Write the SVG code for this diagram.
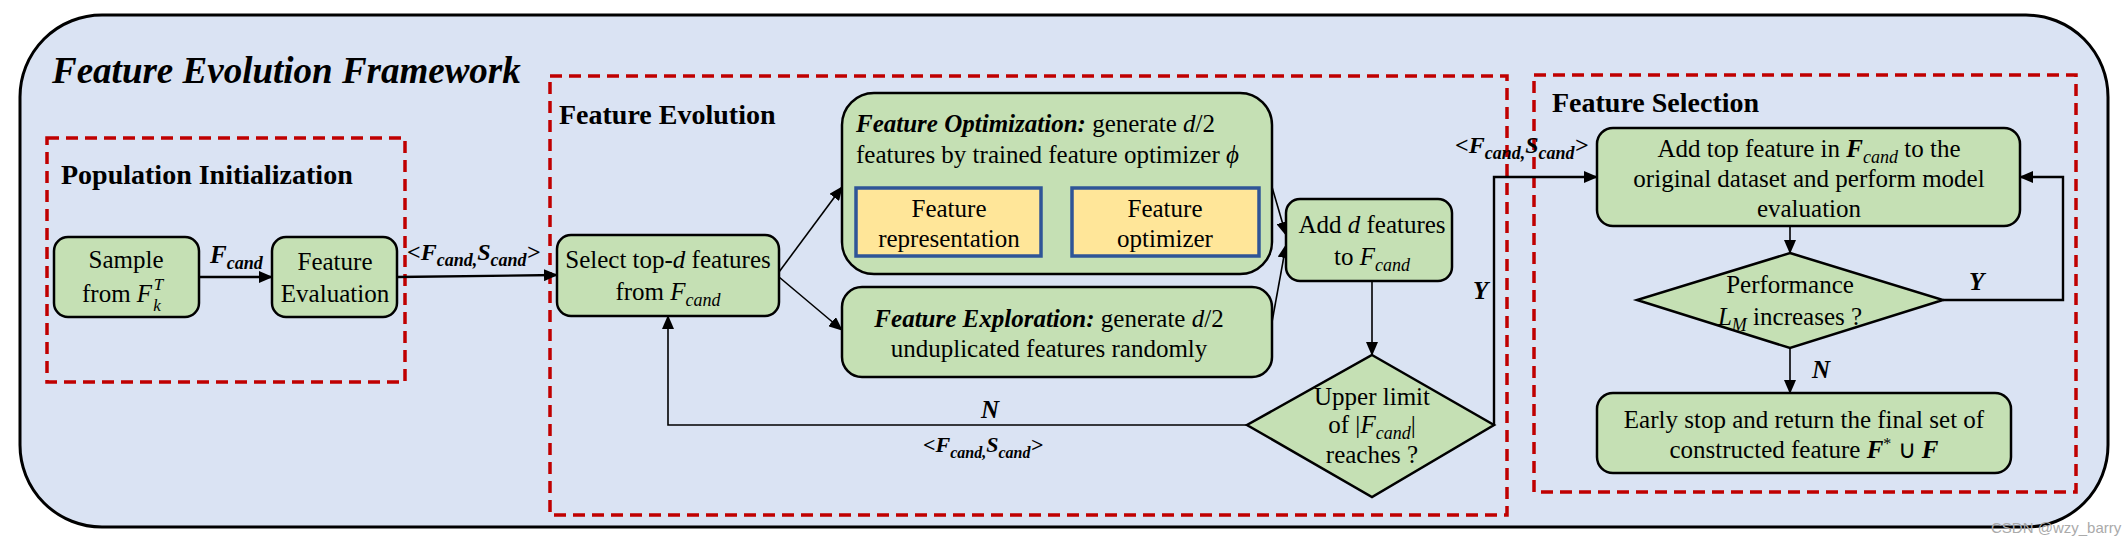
<svg xmlns="http://www.w3.org/2000/svg" width="2123" height="544" viewBox="0 0 2123 544" font-family="'Liberation Serif', 'Times New Roman', serif">
<style>
.box{fill:#c5e0b4;stroke:#000;stroke-width:2.5}
.ybox{fill:#ffe699;stroke:#2f5597;stroke-width:3.5}
.dash{fill:none;stroke:#c00000;stroke-width:3.5;stroke-dasharray:12 7}
.t{font-family:"Liberation Serif","Times New Roman",serif;font-size:25px;fill:#000}
.c{text-anchor:middle}
.hd{font-weight:bold;font-size:28px}
.ttl{font-size:37px}
.lab{font-size:24px}
.lab2{font-size:22px}
.i{font-style:italic}
.bi{font-style:italic;font-weight:bold}
.con{fill:none;stroke:#000;stroke-width:1.6}
.con2{fill:none;stroke:#000;stroke-width:2.4}
</style>
<defs>
<marker id="ah" markerUnits="userSpaceOnUse" markerWidth="14" markerHeight="12" refX="13" refY="6" orient="auto"><path d="M0,0 L14,6 L0,12 z" fill="#000"/></marker>
</defs>
<rect x="20" y="15" width="2088" height="512" rx="82" ry="82" fill="#dae3f3" stroke="#000" stroke-width="3"/>
<text x="52" y="83" class="t bi ttl">Feature Evolution Framework</text>
<g id="population-initialization">
<rect class="dash" x="47" y="138" width="358" height="244"/>
<text x="61" y="184" class="t hd">Population Initialization</text>
</g>
<g id="feature-evolution">
<rect class="dash" x="550" y="76" width="957" height="439"/>
<text x="559" y="124" class="t hd">Feature Evolution</text>
</g>
<g id="feature-selection">
<rect class="dash" x="1534" y="75" width="542" height="417"/>
<text x="1552" y="112" class="t hd">Feature Selection</text>
</g>
<g id="connectors">
<line class="con2" x1="199" y1="277" x2="272" y2="277" marker-end="url(#ah)"/>
<line class="con2" x1="397" y1="277" x2="557" y2="275" marker-end="url(#ah)"/>
<line class="con" x1="779" y1="272" x2="842" y2="187" marker-end="url(#ah)"/>
<line class="con" x1="779" y1="277" x2="842" y2="330" marker-end="url(#ah)"/>
<line class="con" x1="1041" y1="222" x2="1072" y2="222" marker-end="url(#ah)"/>
<line class="con" x1="1272" y1="187" x2="1286" y2="235" marker-end="url(#ah)"/>
<line class="con" x1="1272" y1="322" x2="1286" y2="245" marker-end="url(#ah)"/>
<line class="con" x1="1372" y1="281" x2="1372" y2="355" marker-end="url(#ah)"/>
<polyline class="con" points="1247,425 668,425 668,316" marker-end="url(#ah)"/>
<polyline class="con2" points="1494,425 1494,177 1597,177" marker-end="url(#ah)"/>
<line class="con" x1="1790" y1="226" x2="1790" y2="253" marker-end="url(#ah)"/>
<polyline class="con2" points="1943,300 2063,300 2063,177 2020,177" marker-end="url(#ah)"/>
<line class="con" x1="1790" y1="348" x2="1790" y2="393" marker-end="url(#ah)"/>
<text x="210" y="263" class="t bi">F<tspan font-size="18" dy="6">cand</tspan></text>
<text x="407" y="260" class="t bi lab">&lt;F<tspan font-size="18" dy="6">cand,</tspan><tspan dy="-6">S</tspan><tspan font-size="18" dy="6">cand</tspan><tspan dy="-6">&gt;</tspan></text>
<text x="990" y="418" class="t bi c">N</text>
<text x="983" y="452" class="t bi c lab2">&lt;F<tspan font-size="16" dy="6">cand,</tspan><tspan dy="-6">S</tspan><tspan font-size="16" dy="6">cand</tspan><tspan dy="-6">&gt;</tspan></text>
<text x="1473" y="299" class="t bi">Y</text>
<text x="1455" y="153" class="t bi lab">&lt;F<tspan font-size="18" dy="6">cand,</tspan><tspan dy="-6">S</tspan><tspan font-size="18" dy="6">cand</tspan><tspan dy="-6">&gt;</tspan></text>
<text x="1969" y="290" class="t bi">Y</text>
<text x="1812" y="378" class="t bi">N</text>
</g>
<g id="sample">
<rect class="box" x="54" y="237" width="145" height="80" rx="14"/>
<text x="126" y="268" class="t c">Sample</text>
<text x="82" y="302" class="t">from <tspan class="i">F</tspan><tspan class="i" font-size="17" dx="1" dy="9">k</tspan><tspan class="i" font-size="17" dx="-7" dy="-21">T</tspan></text>
</g>
<g id="feature-evaluation">
<rect class="box" x="272" y="237" width="125" height="80" rx="14"/>
<text x="335" y="270" class="t c">Feature</text>
<text x="335" y="302" class="t c">Evaluation</text>
</g>
<g id="select">
<rect class="box" x="557" y="235" width="222" height="81" rx="14"/>
<text x="668" y="268" class="t c">Select top-<tspan class="i">d</tspan>  features</text>
<text x="668" y="300" class="t c">from <tspan class="i">F</tspan><tspan class="i" font-size="18" dy="6">cand</tspan></text>
</g>
<g id="feature-optimization">
<rect class="box" x="842" y="93" width="430" height="181" rx="32"/>
<text x="856" y="132" class="t"><tspan class="bi">Feature Optimization:</tspan> generate <tspan class="i">d</tspan>/2</text>
<text x="856" y="163" class="t">features by trained feature optimizer <tspan class="i">ϕ</tspan></text>
</g>
<g id="feature-representation">
<rect class="ybox" x="856" y="188" width="185" height="68"/>
<text x="949" y="217" class="t c">Feature</text>
<text x="949" y="247" class="t c">representation</text>
</g>
<g id="feature-optimizer">
<rect class="ybox" x="1072" y="188" width="187" height="68"/>
<text x="1165" y="217" class="t c">Feature</text>
<text x="1165" y="247" class="t c">optimizer</text>
</g>
<g id="feature-exploration">
<rect class="box" x="842" y="287" width="430" height="90" rx="20"/>
<text x="1049" y="327" class="t c"><tspan class="bi">Feature Exploration:</tspan> generate <tspan class="i">d</tspan>/2</text>
<text x="1049" y="357" class="t c">unduplicated features randomly</text>
</g>
<g id="add-d">
<rect class="box" x="1286" y="199" width="166" height="82" rx="14"/>
<text x="1372" y="233" class="t c">Add <tspan class="i">d</tspan> features</text>
<text x="1372" y="265" class="t c">to <tspan class="i">F</tspan><tspan class="i" font-size="18" dy="6">cand</tspan></text>
</g>
<g id="upper-limit">
<polygon class="box" points="1372,355 1494,425 1372,497 1247,425"/>
<text x="1372" y="405" class="t c">Upper limit</text>
<text x="1372" y="433" class="t c">of |<tspan class="i">F</tspan><tspan class="i" font-size="18" dy="6">cand</tspan><tspan dy="-6">|</tspan></text>
<text x="1372" y="463" class="t c">reaches ?</text>
</g>
<g id="add-top">
<rect class="box" x="1597" y="128" width="423" height="98" rx="16"/>
<text x="1809" y="157" class="t c">Add top feature in <tspan class="bi">F</tspan><tspan class="i" font-size="18" dy="6">cand</tspan><tspan dy="-6"> to  the</tspan></text>
<text x="1809" y="187" class="t c">original dataset and perform model</text>
<text x="1809" y="217" class="t c">evaluation</text>
</g>
<g id="performance">
<polygon class="box" points="1790,253 1943,300 1790,348 1637,300"/>
<text x="1790" y="293" class="t c">Performance</text>
<text x="1790" y="325" class="t c"><tspan class="i">L</tspan><tspan class="i" font-size="18" dy="6">M</tspan><tspan dy="-6"> increases ?</tspan></text>
</g>
<g id="early-stop">
<rect class="box" x="1597" y="393" width="414" height="80" rx="16"/>
<text x="1804" y="428" class="t c">Early stop and return the final set of</text>
<text x="1804" y="458" class="t c">constructed feature <tspan class="bi">F</tspan><tspan font-size="16" dy="-9">*</tspan><tspan dy="9"> ∪ </tspan><tspan class="bi">F</tspan></text>
</g>
<text x="1991" y="533" font-family="'Liberation Sans', Arial, sans-serif" font-size="15" fill="#aaa">CSDN @wzy_barry</text>
</svg>
